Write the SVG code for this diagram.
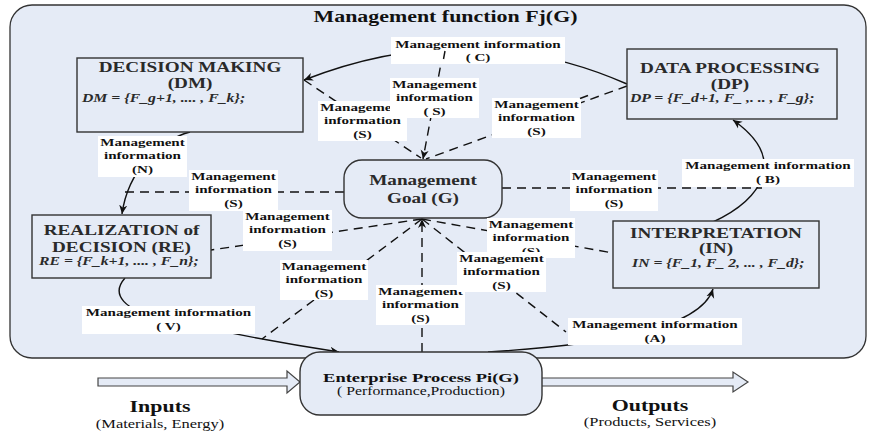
<svg xmlns="http://www.w3.org/2000/svg" width="870" height="437" viewBox="0 0 870 437">
<defs>
<marker id="ah" viewBox="0 0 10 10" refX="10" refY="5" markerWidth="9" markerHeight="9" orient="auto" markerUnits="userSpaceOnUse">
<path d="M0,0.5 L10,5 L0,9.5 L3,5 Z" fill="#111"/>
</marker>
<style>
.frame{fill:#e5ebf6;stroke:#333;stroke-width:1.3}
.box{fill:#e5ebf6;stroke:#333;stroke-width:1.4}
.sol{fill:none;stroke:#111;stroke-width:1.4}
.dsh{fill:none;stroke:#111;stroke-width:1.4;stroke-dasharray:9,6}
.lb{fill:#fff;stroke:none}
.lt{font-family:"Liberation Serif","Times New Roman",serif;font-weight:bold;font-size:11px;fill:#111;text-anchor:middle}
.bt{font-family:"Liberation Serif","Times New Roman",serif;font-weight:bold;font-size:14px;fill:#2a2a2a;text-anchor:middle}
.fm{font-family:"Liberation Serif","Times New Roman",serif;font-weight:bold;font-style:italic;font-size:11.5px;fill:#2a2a2a}
.ti{font-family:"Liberation Serif","Times New Roman",serif;font-weight:bold;font-size:16px;fill:#111;text-anchor:middle}
.io{fill:#e5ebf6;stroke:#444;stroke-width:1.2}
.big{font-family:"Liberation Serif","Times New Roman",serif;font-weight:bold;font-size:16px;fill:#111;text-anchor:middle}
.sm{font-family:"Liberation Serif","Times New Roman",serif;font-size:12px;fill:#111;text-anchor:middle}
.sm2{font-family:"Liberation Serif","Times New Roman",serif;font-size:11.5px;fill:#111;text-anchor:middle}
</style>
</defs>

<!-- frame -->
<rect class="frame" x="10" y="5" width="856" height="353" rx="22"/>
<g transform="translate(445.5,0) scale(1.37,1)"><text class="ti" x="0" y="22">Management function Fj(G)</text></g>

<!-- inputs / outputs -->
<g id="inputs">
<polygon class="io" points="98,378 287,378 287,371 300,382 287,393 287,386 98,386"/>
<g transform="translate(160,0) scale(1.37,1)"><text class="big" x="0" y="412">Inputs</text><text class="sm" x="0" y="428">(Materials, Energy)</text></g>
</g>
<g id="outputs">
<polygon class="io" points="530,378 733,378 733,372 748,382 733,392 733,386 530,386"/>
<g transform="translate(650,0) scale(1.37,1)"><text class="big" x="0" y="411">Outputs</text><text class="sm" x="0" y="426">(Products, Services)</text></g>
</g>

<!-- connectors -->
<g id="connectors">
<path class="sol" d="M627,84 Q470,15 304,80" marker-end="url(#ah)"/>
<path class="sol" d="M190,132 C160,140 128,170 122,214" marker-end="url(#ah)"/>
<path class="sol" d="M125,278 C110,295 125,310 160,318 C230,334 300,346 339,352" marker-end="url(#ah)"/>
<path class="sol" d="M488,352 C600,345 700,330 713,289" marker-end="url(#ah)"/>
<path class="sol" d="M713,222 C760,200 790,160 733,120" marker-end="url(#ah)"/>

<path class="dsh" d="M304,80 L421,158"/>
<path class="dsh" d="M627,86 L426,159"/>
<path class="dsh" d="M443,53 L423,159" marker-end="url(#ah)"/>
<path class="dsh" d="M344,192 L120,192"/>
<path class="dsh" d="M502,188 L762,188"/>
<path class="dsh" d="M422,219 L211,250"/>
<path class="dsh" d="M422,219 L262,339"/>
<path class="dsh" d="M422,219 L566,332"/>
<path class="dsh" d="M422,219 L613,253"/>
<path class="dsh" d="M422,352 L422,219" marker-end="url(#ah)"/>
</g>

<!-- nodes -->
<g id="dm">
<rect class="box" x="77" y="58" width="226" height="74"/>
<g transform="translate(190,0) scale(1.37,1)"><text class="bt" x="0" y="72">DECISION MAKING</text><text class="bt" x="0" y="88">(DM)</text></g>
<g transform="translate(82,0) scale(1.37,1)"><text class="fm" x="0" y="102">DM = {F_g+1, .... , F_k};</text></g>
</g>
<g id="dp">
<rect class="box" x="627" y="49" width="210" height="70"/>
<g transform="translate(730,0) scale(1.37,1)"><text class="bt" x="0" y="73">DATA PROCESSING</text><text class="bt" x="0" y="89">(DP)</text></g>
<g transform="translate(630,0) scale(1.37,1)"><text class="fm" x="0" y="102">DP = {F_d+1, F_ ,. .. , F_g};</text></g>
</g>
<g id="goal">
<rect class="box" x="344" y="160" width="158" height="58" rx="18"/>
<g transform="translate(423,0) scale(1.37,1)"><text class="bt" x="0" y="185">Management</text><text class="bt" x="0" y="203">Goal (G)</text></g>
</g>
<g id="re">
<rect class="box" x="32" y="215" width="179" height="63"/>
<g transform="translate(121.5,0) scale(1.37,1)"><text class="bt" x="0" y="235">REALIZATION of</text><text class="bt" x="0" y="252">DECISION (RE)</text></g>
<g transform="translate(39,0) scale(1.37,1)"><text class="fm" x="0" y="265">RE = {F_k+1, .... , F_n};</text></g>
</g>
<g id="in">
<rect class="box" x="613" y="221" width="206" height="67"/>
<g transform="translate(716,0) scale(1.37,1)"><text class="bt" x="0" y="238">INTERPRETATION</text><text class="bt" x="0" y="253">(IN)</text></g>
<g transform="translate(632,0) scale(1.37,1)"><text class="fm" x="0" y="267">IN = {F_1, F_ 2, ... , F_d};</text></g>
</g>
<g id="ep">
<rect class="box" x="300" y="352" width="242" height="63" rx="20"/>
<g transform="translate(421,0) scale(1.37,1)"><text class="bt" x="0" y="382" style="font-size:13.5px;fill:#111">Enterprise Process Pi(G)</text><text class="sm2" x="0" y="395">( Performance,Production)</text></g>
</g>

<!-- labels -->
<g id="labels">
<g id="lbl-c"><rect class="lb" x="391" y="37" width="174" height="27"/>
<g transform="translate(478,0) scale(1.37,1)"><text class="lt" x="0" y="48">Management information</text><text class="lt" x="0" y="61">( C)</text></g></g>
<g id="lbl-s1"><rect class="lb" x="318" y="101" width="89" height="40"/>
<g transform="translate(362.5,0) scale(1.37,1)"><text class="lt" x="0" y="111">Management</text><text class="lt" x="0" y="124">information</text><text class="lt" x="0" y="138">(S)</text></g></g>
<g id="lbl-s2"><rect class="lb" x="390" y="78" width="89" height="40"/>
<g transform="translate(434.5,0) scale(1.37,1)"><text class="lt" x="0" y="88">Management</text><text class="lt" x="0" y="101">information</text><text class="lt" x="0" y="115">( S)</text></g></g>
<g id="lbl-s3"><rect class="lb" x="492" y="98" width="89" height="40"/>
<g transform="translate(536.5,0) scale(1.37,1)"><text class="lt" x="0" y="108">Management</text><text class="lt" x="0" y="121">information</text><text class="lt" x="0" y="135">(S)</text></g></g>
<g id="lbl-n"><rect class="lb" x="98" y="136" width="89" height="41"/>
<g transform="translate(142.5,0) scale(1.37,1)"><text class="lt" x="0" y="146">Management</text><text class="lt" x="0" y="159">information</text><text class="lt" x="0" y="173">(N)</text></g></g>
<g id="lbl-s4"><rect class="lb" x="189" y="170" width="89" height="41"/>
<g transform="translate(233.5,0) scale(1.37,1)"><text class="lt" x="0" y="180">Management</text><text class="lt" x="0" y="193">information</text><text class="lt" x="0" y="207">(S)</text></g></g>
<g id="lbl-s5"><rect class="lb" x="570" y="170" width="88" height="41"/>
<g transform="translate(614,0) scale(1.37,1)"><text class="lt" x="0" y="180">Management</text><text class="lt" x="0" y="193">information</text><text class="lt" x="0" y="207">(S)</text></g></g>
<g id="lbl-b"><rect class="lb" x="682" y="159" width="172" height="28"/>
<g transform="translate(768,0) scale(1.37,1)"><text class="lt" x="0" y="169">Management information</text><text class="lt" x="0" y="183">( B)</text></g></g>
<g id="lbl-s6"><rect class="lb" x="243" y="210" width="89" height="41"/>
<g transform="translate(287.5,0) scale(1.37,1)"><text class="lt" x="0" y="220">Management</text><text class="lt" x="0" y="233">information</text><text class="lt" x="0" y="247">(S)</text></g></g>
<g id="lbl-s7"><rect class="lb" x="487" y="218" width="88" height="40"/>
<g transform="translate(531,0) scale(1.37,1)"><text class="lt" x="0" y="228">Management</text><text class="lt" x="0" y="241">information</text><text class="lt" x="0" y="255">(S)</text></g></g>
<g id="lbl-s8"><rect class="lb" x="280" y="260" width="88" height="40"/>
<g transform="translate(324,0) scale(1.37,1)"><text class="lt" x="0" y="270">Management</text><text class="lt" x="0" y="283">information</text><text class="lt" x="0" y="297">(S)</text></g></g>
<g id="lbl-s9"><rect class="lb" x="376" y="285" width="89" height="40"/>
<g transform="translate(420.5,0) scale(1.37,1)"><text class="lt" x="0" y="295">Management</text><text class="lt" x="0" y="308">information</text><text class="lt" x="0" y="322">(S)</text></g></g>
<g id="lbl-s10"><rect class="lb" x="457" y="252" width="89" height="40"/>
<g transform="translate(501.5,0) scale(1.37,1)"><text class="lt" x="0" y="262">Management</text><text class="lt" x="0" y="275">information</text><text class="lt" x="0" y="289">(S)</text></g></g>
<g id="lbl-v"><rect class="lb" x="82" y="306" width="173" height="28"/>
<g transform="translate(168.5,0) scale(1.37,1)"><text class="lt" x="0" y="316">Management information</text><text class="lt" x="0" y="330">( V)</text></g></g>
<g id="lbl-a"><rect class="lb" x="568" y="318" width="174" height="27"/>
<g transform="translate(655,0) scale(1.37,1)"><text class="lt" x="0" y="328">Management information</text><text class="lt" x="0" y="342">(A)</text></g></g>
</g>

<!-- dash fragments drawn over label boxes, as in the reference -->
<g id="overdash">
<path class="sol" d="M445,51 L443.5,59"/>
<path class="sol" d="M588,95.5 L580,98.5"/>
</g>
</svg>
